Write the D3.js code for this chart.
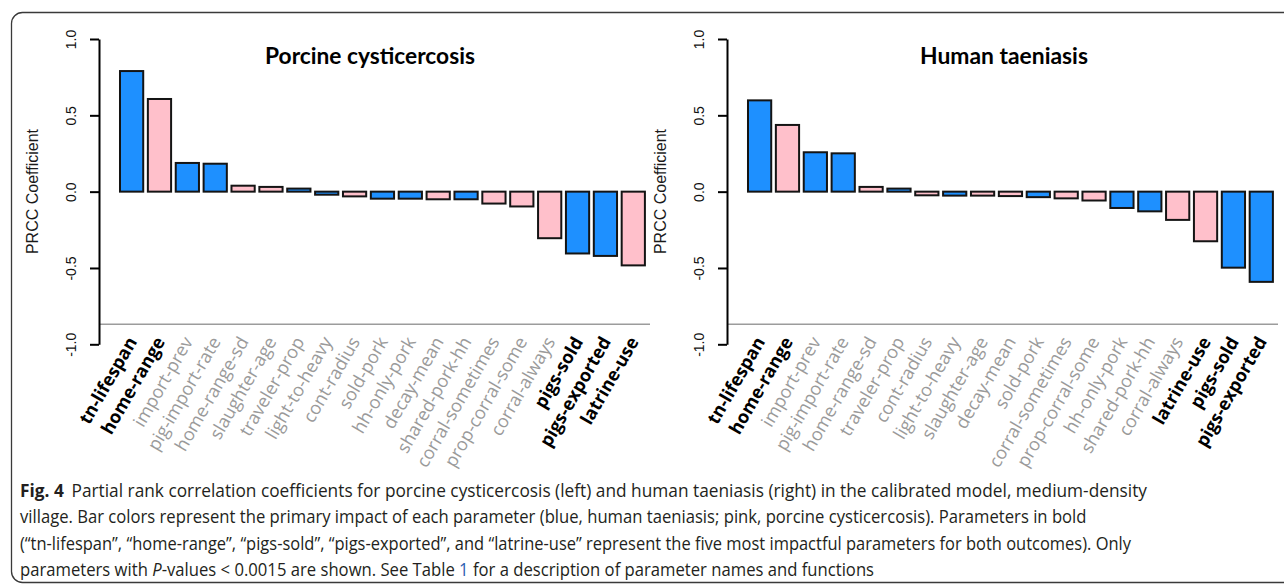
<!DOCTYPE html>
<html lang="en">
<head>
<meta charset="UTF-8">
<script src="https://cdnjs.cloudflare.com/ajax/libs/d3/7.9.0/d3.min.js"></script>
<title>PRCC coefficients</title>
<style>
    body { margin: 0; background: #fff; }
    svg { display: block; }
</style>
</head>
<body>
<div id="fig"></div>
<script>
// parameters and PRCC values
const porcineParams = ['tn-lifespan', 'home-range', 'import-prev', 'pig-import-rate', 'home-range-sd',
    'slaughter-age', 'traveler-prop', 'light-to-heavy', 'cont-radius', 'sold-pork', 'hh-only-pork',
    'decay-mean', 'shared-pork-hh', 'corral-sometimes', 'prop-corral-some', 'corral-always',
    'pigs-sold', 'pigs-exported', 'latrine-use'];
const porcineValues = [0.79, 0.607, 0.188, 0.183, 0.039, 0.031, 0.02, -0.02, -0.031, -0.046, -0.046,
    -0.05, -0.05, -0.078, -0.097, -0.305, -0.405, -0.421, -0.483];

const humanParams = ['tn-lifespan', 'home-range', 'import-prev', 'pig-import-rate', 'home-range-sd',
    'traveler-prop', 'cont-radius', 'light-to-heavy', 'slaughter-age', 'decay-mean', 'sold-pork',
    'corral-sometimes', 'prop-corral-some', 'hh-only-pork', 'shared-pork-hh', 'corral-always',
    'latrine-use', 'pigs-sold', 'pigs-exported'];
const humanValues = [0.598, 0.437, 0.258, 0.251, 0.031, 0.02, -0.024, -0.026, -0.026, -0.029, -0.036,
    -0.044, -0.058, -0.107, -0.129, -0.185, -0.325, -0.498, -0.591];

// parameters whose primary impact is human taeniasis (blue); the rest are porcine (pink)
const humanImpact = ['tn-lifespan', 'import-prev', 'pig-import-rate', 'traveler-prop', 'light-to-heavy',
    'sold-pork', 'hh-only-pork', 'shared-pork-hh', 'pigs-sold', 'pigs-exported'];
const boldParams = ['tn-lifespan', 'home-range', 'pigs-sold', 'pigs-exported', 'latrine-use'];
const yTicks = [-1, -0.5, 0, 0.5, 1];

const width = 1284, height = 584;
const svg = d3.select('#fig').append('svg')
    .attr('width', width)
    .attr('height', height);

// figure frame (only top and left edges fall inside the picture)
svg.append('rect')
    .attr('x', 11.5).attr('y', 12.5)
    .attr('width', 1340).attr('height', 570)
    .attr('rx', 11)
    .attr('fill', 'none')
    .attr('stroke', '#3a3a3a')
    .attr('stroke-width', 1.3);

const color = d3.scaleOrdinal()
    .domain(['human', 'porcine'])
    .range(['#1e90ff', '#ffc0cb']);

// squeeze / stretch a text horizontally so it spans a given width
function fitWidth(text, target, ax) {
    const w = text.node().getComputedTextLength();
    const s = target / w;
    text.attr('transform', `translate(${ax},0) scale(${s},1) translate(${-ax},0)`);
}

const plotW = 566.9;
const y = d3.scaleLinear().domain([-1, 1]).range([344.3, 39]);

function drawPanel(left, params, values, title, titleX, titleW) {
    const g = svg.append('g');
    const x = d3.scaleBand()
        .domain(params)
        .range([left, left + plotW])
        .paddingInner(1 / 6)
        .paddingOuter(0.7533);

    // grey separator line under the bars
    g.append('line')
        .attr('x1', left).attr('x2', left + 551)
        .attr('y1', 324.3).attr('y2', 324.3)
        .attr('stroke', '#9c9c9c')
        .attr('stroke-width', 1.5);

    g.selectAll('rect.bar')
        .data(params)
        .enter()
        .append('rect')
        .attr('class', 'bar')
        .attr('x', d => x(d))
        .attr('width', x.bandwidth())
        .attr('y', (d, i) => y(Math.max(0, values[i])))
        .attr('height', (d, i) => Math.abs(y(values[i]) - y(0)))
        .attr('fill', d => color(humanImpact.includes(d) ? 'human' : 'porcine'))
        .attr('stroke', '#141414')
        .attr('stroke-width', 2);

    // y axis
    const axis = g.append('g')
        .attr('transform', `translate(${left},0)`)
        .call(d3.axisLeft(y).tickValues(yTicks).tickFormat(d => d.toFixed(1)).tickSize(9).tickSizeOuter(0));
    axis.select('.domain').attr('stroke', '#000').attr('stroke-width', 2);
    axis.selectAll('.tick line').attr('stroke', '#000').attr('stroke-width', 2);
    axis.selectAll('.tick text')
        .attr('x', null).attr('dy', null)
        .attr('transform', 'translate(-28.5,0) rotate(-90)')
        .attr('text-anchor', 'middle')
        .attr('dominant-baseline', 'central')
        .attr('font-family', 'Liberation Sans, Arial, sans-serif')
        .attr('font-size', 14)
        .attr('fill', '#111');

    g.append('text')
        .attr('transform', `translate(${left - 67},191.5) rotate(-90)`)
        .attr('text-anchor', 'middle')
        .attr('dominant-baseline', 'central')
        .attr('font-family', 'Liberation Sans, Arial, sans-serif')
        .attr('font-size', 16)
        .attr('fill', '#1a1a1a')
        .text('PRCC Coefficient');

    const t = g.append('text')
        .attr('x', titleX).attr('y', 64)
        .attr('text-anchor', 'middle')
        .attr('font-family', 'Lato, sans-serif')
        .attr('font-weight', 700)
        .attr('font-size', 22)
        .attr('fill', '#000')
        .text(title);
    fitWidth(t, titleW, titleX);

    // rotated parameter names
    g.selectAll('text.param')
        .data(params)
        .enter()
        .append('text')
        .attr('class', 'param')
        .attr('transform', d => `translate(${x(d) + x.bandwidth() / 2},338) rotate(-60)`)
        .attr('text-anchor', 'end')
        .attr('dominant-baseline', 'central')
        .attr('font-family', 'Open Sans, sans-serif')
        .attr('font-size', 18)
        .attr('font-weight', d => boldParams.includes(d) ? 700 : 400)
        .attr('fill', d => boldParams.includes(d) ? '#000' : '#9a9a9a')
        .text(d => d);
}

drawPanel(99, porcineParams, porcineValues, 'Porcine cysticercosis', 370, 210);
drawPanel(727, humanParams, humanValues, 'Human taeniasis', 1004, 168);

// caption
const capX = 20;
const cap = svg.append('g')
    .attr('font-family', 'Open Sans, sans-serif')
    .attr('font-size', 18)
    .attr('fill', '#231f20');

const l1 = cap.append('text').attr('x', capX).attr('y', 497);
l1.append('tspan').attr('font-weight', 700).text('Fig. 4');
l1.append('tspan').attr('dx', 8).text('Partial rank correlation coefficients for porcine cysticercosis (left) and human taeniasis (right) in the calibrated model, medium-density');
fitWidth(l1, 1120, capX);

const l2 = cap.append('text').attr('x', capX).attr('y', 523.5)
    .text('village. Bar colors represent the primary impact of each parameter (blue, human taeniasis; pink, porcine cysticercosis). Parameters in bold');
fitWidth(l2, 1067, capX);

const l3 = cap.append('text').attr('x', capX).attr('y', 550)
    .text('(\u201ctn-lifespan\u201d, \u201chome-range\u201d, \u201cpigs-sold\u201d, \u201cpigs-exported\u201d, and \u201clatrine-use\u201d represent the five most impactful parameters for both outcomes). Only');
fitWidth(l3, 1111, capX);

const l4 = cap.append('text').attr('x', capX).attr('y', 576.5);
l4.append('tspan').text('parameters with ');
l4.append('tspan').attr('font-style', 'italic').text('P');
l4.append('tspan').text('-values < 0.0015 are shown. See Table ');
l4.append('tspan').attr('fill', '#2a5db0').text('1');
l4.append('tspan').text(' for a description of parameter names and functions');
fitWidth(l4, 855, capX);
</script>
</body>
</html>
